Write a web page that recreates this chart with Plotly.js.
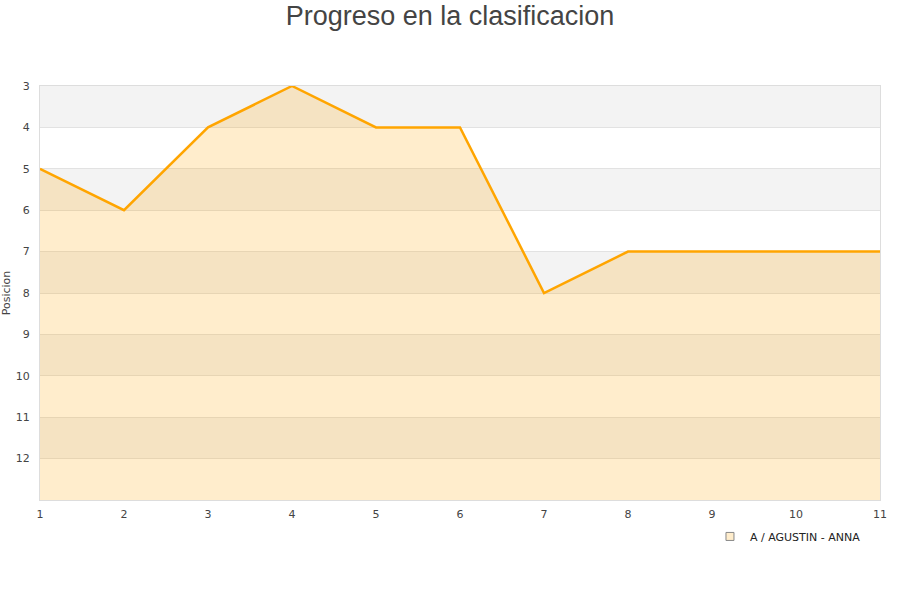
<!DOCTYPE html>
<html>
<head>
<meta charset="utf-8">
<script src="https://cdn.plot.ly/plotly-3.0.1.min.js"></script>
<style>html,body{margin:0;padding:0;background:#fff}#chart{width:900px;height:600px}</style>
</head>
<body>
<div id="chart"></div>
<script>
const jornadas = [1, 2, 3, 4, 5, 6, 7, 8, 9, 10, 11];
const posiciones = [5, 6, 4, 3, 4, 4, 8, 7, 7, 7, 7];
const equipo = "A / AGUSTIN - ANNA";
const yTicks = [3, 4, 5, 6, 7, 8, 9, 10, 11, 12];
const yMin = 3, yMax = 13;

const bands = [];
for (let v = yMin; v < yMax; v += 2) {
  bands.push({type: 'rect', xref: 'paper', yref: 'y', x0: 0, x1: 1, y0: v, y1: v + 1,
    fillcolor: '#f3f3f3', line: {width: 0}, layer: 'below'});
}

const base = jornadas.map(() => yMax);

const traces = [
  {x: jornadas, y: base, mode: 'lines', line: {width: 0, color: 'rgba(0,0,0,0)'}, showlegend: false, hoverinfo: 'skip'},
  {x: jornadas, y: posiciones, mode: 'lines', fill: 'tonexty', fillcolor: 'rgba(255,165,0,0.2)',
   line: {color: '#FFA500', width: 2.5}, showlegend: false, name: equipo},
  {x: [null], y: [null], mode: 'markers', name: equipo,
   marker: {symbol: 'square', size: 8, color: '#FFEDCC', line: {color: '#888', width: 1}}}
];

const layout = {
  width: 900, height: 600,
  margin: {l: 40, r: 20, t: 86, b: 100},
  paper_bgcolor: '#fff', plot_bgcolor: 'rgba(0,0,0,0)',
  title: {text: 'Progreso en la clasificacion', x: 0.5, xanchor: 'center', y: 0.99, yanchor: 'top',
    font: {family: 'Liberation Sans, Arial, sans-serif', size: 27, color: '#444'}},
  font: {family: 'DejaVu Sans, sans-serif', size: 11, color: '#444'},
  xaxis: {range: [1, 11], tickvals: jornadas, showgrid: false, zeroline: false,
    showline: true, linecolor: '#ddd', mirror: true, ticks: '', ticklabelstandoff: 4,
    tickfont: {size: 11, color: '#444'}},
  yaxis: {range: [yMax, yMin], tickvals: yTicks, showgrid: true, gridcolor: '#e2e2e2', zeroline: false,
    showline: true, linecolor: '#ddd', mirror: true, ticks: '', ticklabelstandoff: 7, automargin: false,
    tickfont: {size: 11, color: '#444'},
    title: {text: 'Posicion', font: {size: 11, color: '#444'}, standoff: 4}},
  shapes: bands,
  showlegend: true,
  legend: {x: 0.7976, y: -0.053, xanchor: 'left', yanchor: 'top', bgcolor: 'rgba(0,0,0,0)',
    font: {size: 11, color: '#222'}}
};

Plotly.newPlot('chart', traces, layout, {displayModeBar: false, staticPlot: true});
</script>
</body>
</html>
